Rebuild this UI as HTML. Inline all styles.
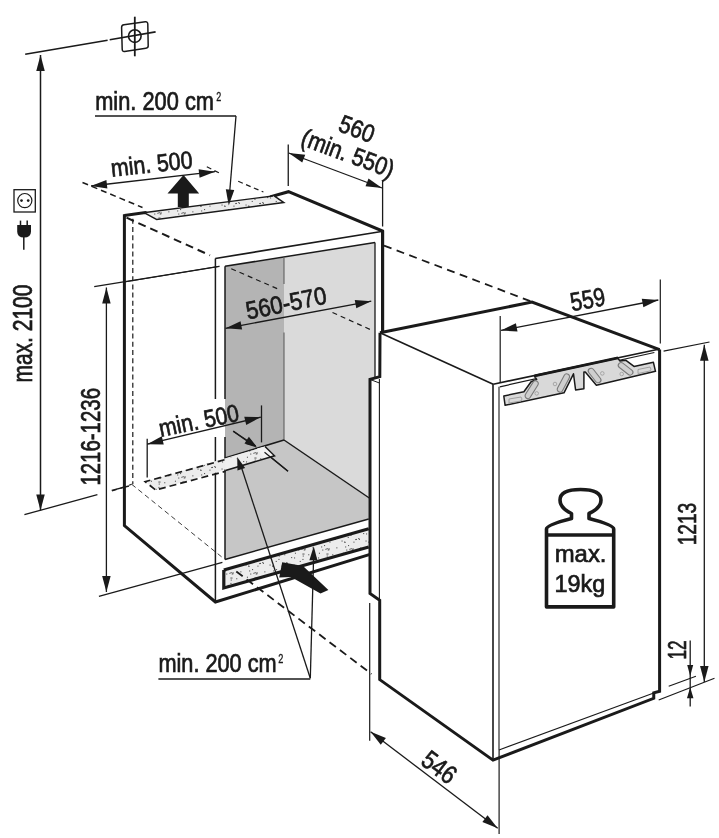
<!DOCTYPE html>
<html><head><meta charset="utf-8"><style>
html,body{margin:0;padding:0;background:#fff;}
svg{display:block;will-change:transform;}
text{font-family:"Liberation Sans",sans-serif;}
</style></head><body>
<svg width="719" height="838" viewBox="0 0 719 838">
<defs><pattern id="dots" width="24" height="24" patternUnits="userSpaceOnUse"><rect width="24" height="24" fill="#ececec"/><rect x="5.5" y="12.5" width="1.1" height="1.1" fill="#5a5a5a"/><rect x="8.5" y="13.9" width="1.1" height="1.1" fill="#5a5a5a"/><rect x="14.4" y="1.5" width="1.1" height="1.1" fill="#5a5a5a"/><rect x="0.3" y="19.3" width="1.1" height="1.1" fill="#5a5a5a"/><rect x="6.0" y="5.4" width="1.1" height="1.1" fill="#5a5a5a"/><rect x="22.9" y="10.8" width="1.1" height="1.1" fill="#5a5a5a"/><rect x="19.2" y="11.0" width="1.1" height="1.1" fill="#5a5a5a"/><rect x="14.7" y="3.5" width="1.1" height="1.1" fill="#5a5a5a"/><rect x="14.6" y="20.0" width="1.1" height="1.1" fill="#5a5a5a"/><rect x="12.0" y="17.0" width="1.1" height="1.1" fill="#5a5a5a"/><rect x="15.4" y="1.5" width="1.1" height="1.1" fill="#5a5a5a"/><rect x="17.4" y="13.6" width="1.1" height="1.1" fill="#5a5a5a"/><rect x="6.9" y="0.7" width="1.1" height="1.1" fill="#5a5a5a"/><rect x="19.9" y="10.9" width="1.1" height="1.1" fill="#5a5a5a"/><rect x="16.5" y="20.2" width="1.1" height="1.1" fill="#5a5a5a"/><rect x="16.4" y="21.2" width="1.1" height="1.1" fill="#5a5a5a"/><rect x="9.1" y="18.4" width="1.1" height="1.1" fill="#5a5a5a"/><rect x="10.2" y="21.5" width="1.1" height="1.1" fill="#5a5a5a"/><rect x="20.2" y="2.2" width="1.1" height="1.1" fill="#5a5a5a"/><rect x="3.1" y="5.0" width="1.1" height="1.1" fill="#5a5a5a"/><rect x="22.2" y="10.0" width="1.1" height="1.1" fill="#5a5a5a"/><rect x="14.4" y="6.9" width="1.1" height="1.1" fill="#5a5a5a"/><rect x="11.7" y="8.9" width="1.1" height="1.1" fill="#5a5a5a"/><rect x="8.1" y="13.5" width="1.1" height="1.1" fill="#5a5a5a"/><rect x="13.4" y="20.8" width="1.1" height="1.1" fill="#5a5a5a"/><rect x="15.7" y="21.4" width="1.1" height="1.1" fill="#5a5a5a"/></pattern></defs>
<rect width="719" height="838" fill="#fff"/>
<polygon points="225,266 284,257.6 284,440 225,458" fill="#b4b4b4"/>
<polygon points="284,257.6 375,242.5 375,502 368.75,497.7 284,440" fill="#dadada"/>
<polygon points="225,458 284,440 368.75,497.7 368.75,519 225,559.5" fill="#c6c6c6"/>
<polygon points="368.75,497.7 375,502 375,520 368.75,519" fill="#c6c6c6"/>
<line x1="25.2" y1="54.2" x2="107.6" y2="40.3" stroke="#1a1a1a" stroke-width="1.6" stroke-linecap="butt"/>
<line x1="109.7" y1="39.8" x2="155.6" y2="31.9" stroke="#1a1a1a" stroke-width="1.6" stroke-linecap="butt"/>
<path d="M124,24.7 L145.3,21.8 Q147.7,21.5 147.8,24 L148.2,45.6 Q148.3,48 145.9,48.3 L124.6,51.4 Q122.2,51.7 122.2,49.3 L121.6,27.4 Q121.6,25 124,24.7 Z" fill="none" stroke="#1a1a1a" stroke-width="1.5"/>
<circle cx="134.8" cy="36.1" r="6.3" fill="none" stroke="#1a1a1a" stroke-width="1.6"/>
<line x1="134.8" y1="16.7" x2="134.8" y2="56.3" stroke="#1a1a1a" stroke-width="1.8" stroke-linecap="butt"/>
<line x1="40.5" y1="55" x2="40.5" y2="510.4" stroke="#1a1a1a" stroke-width="1.5" stroke-linecap="butt"/>
<polygon points="40.50,55.00 44.75,71.00 36.25,71.00" fill="#1a1a1a"/>
<polygon points="40.50,510.40 36.25,494.40 44.75,494.40" fill="#1a1a1a"/>
<line x1="24.4" y1="514.7" x2="97.4" y2="494.6" stroke="#1a1a1a" stroke-width="1.3" stroke-linecap="butt"/>
<line x1="111.7" y1="490.3" x2="129" y2="486" stroke="#1a1a1a" stroke-width="1.3" stroke-linecap="butt"/>
<text transform="translate(32.4,382.6) rotate(-90)" font-size="27" fill="#1a1a1a" stroke="#1a1a1a" stroke-width="0.7" text-anchor="start" textLength="98" lengthAdjust="spacingAndGlyphs">max. 2100</text>
<rect x="14" y="189.7" width="21.3" height="22.3" fill="none" stroke="#1a1a1a" stroke-width="1.3"/>
<circle cx="24.8" cy="200.6" r="7.1" fill="none" stroke="#1a1a1a" stroke-width="1.2"/>
<circle cx="21.5" cy="200.6" r="1.35" fill="#1a1a1a"/><circle cx="28.2" cy="200.6" r="1.35" fill="#1a1a1a"/>
<path d="M17.2,224.9 H31 V231.5 Q31,237.5 24,237.5 Q17.2,237.5 17.2,231.5 Z" fill="#1a1a1a"/>
<line x1="20.5" y1="220.6" x2="20.5" y2="225" stroke="#1a1a1a" stroke-width="1.5" stroke-linecap="butt"/>
<line x1="27.2" y1="220.6" x2="27.2" y2="225" stroke="#1a1a1a" stroke-width="1.5" stroke-linecap="butt"/>
<line x1="23.8" y1="236" x2="23.8" y2="249.7" stroke="#1a1a1a" stroke-width="1.5" stroke-linecap="butt"/>
<line x1="106.4" y1="287.6" x2="106.4" y2="592" stroke="#1a1a1a" stroke-width="1.3" stroke-linecap="butt"/>
<polygon points="106.40,287.60 110.65,303.60 102.15,303.60" fill="#1a1a1a"/>
<polygon points="106.40,592.00 102.15,576.00 110.65,576.00" fill="#1a1a1a"/>
<line x1="94.2" y1="286.6" x2="219.4" y2="266.3" stroke="#1a1a1a" stroke-width="1.3" stroke-linecap="butt"/>
<line x1="98.9" y1="596.3" x2="222.4" y2="562.3" stroke="#1a1a1a" stroke-width="1.3" stroke-linecap="butt"/>
<text transform="translate(99.9,485.6) rotate(-90)" font-size="27" fill="#1a1a1a" stroke="#1a1a1a" stroke-width="0.7" text-anchor="start" textLength="97.6" lengthAdjust="spacingAndGlyphs">1216-1236</text>
<polyline points="124.4,215.6 145.3,212.5 156.8,218.8 281.7,202 273,196 288.5,191.7 382.6,231 382.6,332" fill="none" stroke="#1a1a1a" stroke-width="3" stroke-linejoin="miter"/>
<polyline points="124.4,214.2 124.4,525.6 215.4,602 370,554.4" fill="none" stroke="#1a1a1a" stroke-width="3" stroke-linejoin="miter"/>
<polygon points="145.3,212.5 273,196 281.7,202 156.8,218.8" fill="url(#dots)"/>
<line x1="145.3" y1="212.5" x2="273" y2="196" stroke="#1a1a1a" stroke-width="1.3" stroke-linecap="butt"/>
<line x1="215.3" y1="258.5" x2="381.5" y2="231.5" stroke="#1a1a1a" stroke-width="1.7" stroke-linecap="butt"/>
<line x1="215.4" y1="258.5" x2="215.4" y2="399" stroke="#1a1a1a" stroke-width="1.5" stroke-linecap="butt"/>
<line x1="215.4" y1="437" x2="215.4" y2="602" stroke="#1a1a1a" stroke-width="1.5" stroke-linecap="butt"/>
<line x1="225" y1="266.3" x2="375" y2="242.5" stroke="#1a1a1a" stroke-width="1.5" stroke-linecap="butt"/>
<line x1="375" y1="242.5" x2="375" y2="378" stroke="#1a1a1a" stroke-width="1.3" stroke-linecap="butt"/>
<line x1="225" y1="266.3" x2="225" y2="399" stroke="#1a1a1a" stroke-width="1.5" stroke-linecap="butt"/>
<line x1="225" y1="437" x2="225" y2="559.5" stroke="#1a1a1a" stroke-width="1.5" stroke-linecap="butt"/>
<line x1="225" y1="559.5" x2="368.75" y2="519" stroke="#1a1a1a" stroke-width="1.5" stroke-linecap="butt"/>
<line x1="284" y1="257.6" x2="284" y2="284" stroke="#606060" stroke-width="1.1" stroke-linecap="butt"/>
<line x1="284" y1="332.5" x2="284" y2="440" stroke="#606060" stroke-width="1.1" stroke-linecap="butt"/>
<line x1="284" y1="440" x2="370" y2="498.5" stroke="#1a1a1a" stroke-width="1.5" stroke-linecap="butt"/>
<line x1="225" y1="458" x2="284" y2="440" stroke="#1a1a1a" stroke-width="1.5" stroke-linecap="butt"/>
<line x1="124.4" y1="282" x2="219.4" y2="266.3" stroke="#1a1a1a" stroke-width="1.0" stroke-linecap="butt"/>
<line x1="82.5" y1="182.5" x2="142.5" y2="207.5" stroke="#1a1a1a" stroke-width="1.5" stroke-linecap="butt" stroke-dasharray="6,4"/>
<line x1="206.8" y1="166.8" x2="220.6" y2="173.7" stroke="#1a1a1a" stroke-width="1.2" stroke-linecap="butt" stroke-dasharray="5,3.5"/>
<line x1="238.2" y1="181.3" x2="263.4" y2="192" stroke="#1a1a1a" stroke-width="1.2" stroke-linecap="butt" stroke-dasharray="5,3.5"/>
<line x1="126.5" y1="217.7" x2="210" y2="255.3" stroke="#1a1a1a" stroke-width="2" stroke-linecap="butt" stroke-dasharray="8,5"/>
<line x1="231.25" y1="268.75" x2="277.5" y2="288.75" stroke="#1a1a1a" stroke-width="1.2" stroke-linecap="butt" stroke-dasharray="5,4"/>
<line x1="332.5" y1="312.5" x2="371.25" y2="330" stroke="#1a1a1a" stroke-width="1.2" stroke-linecap="butt" stroke-dasharray="5,4"/>
<line x1="384" y1="245.6" x2="531.3" y2="301.5" stroke="#1a1a1a" stroke-width="1.8" stroke-linecap="butt" stroke-dasharray="8,5.5"/>
<line x1="132.8" y1="218.8" x2="132.8" y2="484.3" stroke="#1a1a1a" stroke-width="1.2" stroke-linecap="butt" stroke-dasharray="5,3.2"/>
<line x1="112" y1="491" x2="131.7" y2="484.3" stroke="#1a1a1a" stroke-width="1.2" stroke-linecap="butt" stroke-dasharray="5,4"/>
<line x1="131.7" y1="484.3" x2="222.4" y2="557.5" stroke="#333" stroke-width="0.95" stroke-linecap="butt" stroke-dasharray="5,3.5"/>
<line x1="288.25" y1="144.5" x2="288.25" y2="186" stroke="#1a1a1a" stroke-width="1.3" stroke-linecap="butt"/>
<line x1="382.6" y1="180.5" x2="382.6" y2="226.5" stroke="#1a1a1a" stroke-width="1.3" stroke-linecap="butt"/>
<line x1="288.75" y1="153" x2="382" y2="188" stroke="#1a1a1a" stroke-width="1.3" stroke-linecap="butt"/>
<polygon points="288.75,153.00 305.22,154.64 302.24,162.60" fill="#1a1a1a"/>
<polygon points="382.00,188.00 365.53,186.36 368.51,178.40" fill="#1a1a1a"/>
<text transform="translate(337,130.5) rotate(20.8)" font-size="25" fill="#1a1a1a" stroke="#1a1a1a" stroke-width="0.7" text-anchor="start" textLength="36" lengthAdjust="spacingAndGlyphs">560</text>
<text transform="translate(299.5,144.5) rotate(20.3)" font-size="25" fill="#1a1a1a" stroke="#1a1a1a" stroke-width="0.7" text-anchor="start" textLength="97" lengthAdjust="spacingAndGlyphs">(min. 550)</text>
<line x1="91" y1="186" x2="215" y2="171.7" stroke="#1a1a1a" stroke-width="1.3" stroke-linecap="butt"/>
<polygon points="91.00,186.00 106.41,179.94 107.38,188.39" fill="#1a1a1a"/>
<polygon points="215.00,171.70 199.59,177.76 198.62,169.31" fill="#1a1a1a"/>
<text transform="translate(111.7,176.7) rotate(-6.2)" font-size="24.6" fill="#1a1a1a" stroke="#1a1a1a" stroke-width="0.7" text-anchor="start" textLength="82" lengthAdjust="spacingAndGlyphs">min. 500</text>
<polygon points="183.5,175 199.2,193.5 188.8,193.5 188.8,207 177.8,207 177.8,193.5 167.5,193.5" fill="#1a1a1a"/>
<text transform="translate(95.2,109.6) rotate(0)" font-size="25" fill="#1a1a1a" stroke="#1a1a1a" stroke-width="0.7" text-anchor="start" textLength="118.8" lengthAdjust="spacingAndGlyphs">min. 200 cm</text>
<text transform="translate(216.2,100.6) rotate(0)" font-size="12.3" fill="#1a1a1a" stroke="#1a1a1a" stroke-width="0.35" text-anchor="start" textLength="5" lengthAdjust="spacingAndGlyphs">2</text>
<line x1="95" y1="115.9" x2="236" y2="115.9" stroke="#1a1a1a" stroke-width="1.5" stroke-linecap="butt"/>
<line x1="236" y1="115.9" x2="229" y2="200" stroke="#1a1a1a" stroke-width="1.3" stroke-linecap="butt"/>
<polygon points="228.75,205.50 225.80,189.21 234.28,189.89" fill="#1a1a1a"/>
<line x1="225.6" y1="328.3" x2="371.25" y2="301.2" stroke="#1a1a1a" stroke-width="1.3" stroke-linecap="butt"/>
<polygon points="225.60,328.30 240.55,321.19 242.11,329.55" fill="#1a1a1a"/>
<polygon points="371.25,301.20 356.30,308.31 354.74,299.95" fill="#1a1a1a"/>
<text transform="translate(247.8,319.6) rotate(-11.5)" font-size="25" fill="#1a1a1a" stroke="#1a1a1a" stroke-width="0.7" text-anchor="start" textLength="81.7" lengthAdjust="spacingAndGlyphs">560-570</text>
<line x1="147.2" y1="438.8" x2="147.2" y2="477.6" stroke="#1a1a1a" stroke-width="1.3" stroke-linecap="butt"/>
<line x1="261.5" y1="405.4" x2="261.5" y2="442.4" stroke="#1a1a1a" stroke-width="1.3" stroke-linecap="butt"/>
<line x1="147.2" y1="444.2" x2="260.8" y2="417.1" stroke="#1a1a1a" stroke-width="1.3" stroke-linecap="butt"/>
<polygon points="147.20,444.20 161.78,436.35 163.75,444.62" fill="#1a1a1a"/>
<polygon points="260.80,417.10 246.22,424.95 244.25,416.68" fill="#1a1a1a"/>
<text transform="translate(160.8,437) rotate(-11.6)" font-size="24.6" fill="#1a1a1a" stroke="#1a1a1a" stroke-width="0.7" text-anchor="start" textLength="81.2" lengthAdjust="spacingAndGlyphs">min. 500</text>
<line x1="233.1" y1="431.2" x2="255.7" y2="446" stroke="#1a1a1a" stroke-width="1.3" stroke-linecap="butt"/>
<polygon points="256.70,446.70 244.47,443.46 248.87,436.77" fill="#1a1a1a"/>
<line x1="265.2" y1="452.5" x2="288.1" y2="471.3" stroke="#1a1a1a" stroke-width="1.3" stroke-linecap="butt"/>
<polygon points="145.2,481.7 265,446.5 274.5,455.8 155.6,490" fill="url(#dots)"/>
<polygon points="225.5,459 236.7,455.9 236.7,467 225.5,470.3" fill="#efefef"/>
<polygon points="257,448.6 265,446.5 274.5,455.8 264.5,458.5" fill="#f2f2f2"/>
<polyline points="224.5,459.8 145.2,481.7 155.6,490 225.5,471.3" fill="none" stroke="#1a1a1a" stroke-width="1.7" stroke-linejoin="miter" stroke-dasharray="7,4"/>
<polyline points="265,446.5 274.5,455.8 225.5,470.5" fill="none" stroke="#1a1a1a" stroke-width="1.5" stroke-linejoin="miter"/>
<line x1="233.3" y1="431.1" x2="252" y2="444.5" stroke="#1a1a1a" stroke-width="1.3" stroke-linecap="butt"/>
<polygon points="256.50,447.50 245.50,444.01 249.54,438.29" fill="#1a1a1a"/>
<line x1="264.5" y1="452.3" x2="287.9" y2="471.2" stroke="#1a1a1a" stroke-width="1.2" stroke-linecap="butt"/>
<polygon points="223.8,570 368.75,528.75 368.75,547 223.8,588" fill="url(#dots)"/>
<polyline points="223.8,570 368.75,528.75" fill="none" stroke="#1a1a1a" stroke-width="3.2" stroke-linejoin="miter"/>
<polyline points="368.75,547 223.8,588 223.8,570" fill="none" stroke="#1a1a1a" stroke-width="3.2" stroke-linejoin="miter"/>
<line x1="236.3" y1="571.5" x2="371.5" y2="674" stroke="#1a1a1a" stroke-width="1.8" stroke-linecap="butt" stroke-dasharray="8,5"/>
<polygon points="282.2,562.2 303,566 328.4,589.9 320.5,593.5 291,577 279.2,577.5" fill="#1a1a1a"/>
<line x1="240" y1="463" x2="310.3" y2="678.2" stroke="#1a1a1a" stroke-width="1.3" stroke-linecap="butt"/>
<line x1="313.75" y1="552" x2="310.3" y2="678.2" stroke="#1a1a1a" stroke-width="1.3" stroke-linecap="butt"/>
<polygon points="313.75,546.25 317.38,560.35 309.39,560.14" fill="#1a1a1a"/>
<polygon points="237.20,457.00 245.08,468.09 237.48,470.60" fill="#1a1a1a"/>
<text transform="translate(158.4,672.1) rotate(0)" font-size="25" fill="#1a1a1a" stroke="#1a1a1a" stroke-width="0.7" text-anchor="start" textLength="118.3" lengthAdjust="spacingAndGlyphs">min. 200 cm</text>
<text transform="translate(278.3,663) rotate(0)" font-size="12.3" fill="#1a1a1a" stroke="#1a1a1a" stroke-width="0.35" text-anchor="start" textLength="5.1" lengthAdjust="spacingAndGlyphs">2</text>
<line x1="158.4" y1="679.1" x2="310.3" y2="679.1" stroke="#1a1a1a" stroke-width="1.5" stroke-linecap="butt"/>
<polygon points="380,332.8 532,302 659.6,349.6 659.6,691.3 653.75,698.3 493,760.1 379.7,679.6 379.7,600.3 370,593.4 370,379.4 379.8,376.7" fill="#fff"/>
<polyline points="380,332.8 532,302 659.6,349.6" fill="none" stroke="#1a1a1a" stroke-width="3" stroke-linejoin="miter"/>
<line x1="380" y1="332.8" x2="493.2" y2="384.2" stroke="#1a1a1a" stroke-width="1.6" stroke-linecap="butt"/>
<line x1="493.2" y1="384.2" x2="659.7" y2="349" stroke="#1a1a1a" stroke-width="1.6" stroke-linecap="butt"/>
<line x1="499.8" y1="386.8" x2="654.4" y2="352.5" stroke="#1a1a1a" stroke-width="1.2" stroke-linecap="butt"/>
<polyline points="382.6,231 382.6,332.5" fill="none" stroke="#1a1a1a" stroke-width="3" stroke-linejoin="miter"/>
<polyline points="380,332.8 379.8,376.7 370,379.4 370,593.4 379.7,600.3 379.7,679.6 493,760.1 653.75,698.3 653.75,692.9 659.6,691.3 659.6,349.6" fill="none" stroke="#1a1a1a" stroke-width="3" stroke-linejoin="miter"/>
<line x1="379.4" y1="379" x2="379.4" y2="600" stroke="#1a1a1a" stroke-width="1.1" stroke-linecap="butt"/>
<line x1="370" y1="379.4" x2="379.4" y2="383" stroke="#1a1a1a" stroke-width="1.0" stroke-linecap="butt"/>
<line x1="493" y1="384.2" x2="493" y2="760.1" stroke="#1a1a1a" stroke-width="1.6" stroke-linecap="butt"/>
<line x1="499" y1="386.8" x2="499" y2="750" stroke="#1a1a1a" stroke-width="1.1" stroke-linecap="butt"/>
<line x1="499" y1="750" x2="653.75" y2="692.9" stroke="#1a1a1a" stroke-width="1.1" stroke-linecap="butt"/>
<line x1="369.7" y1="603" x2="369.7" y2="740.7" stroke="#1a1a1a" stroke-width="1.2" stroke-linecap="butt"/>
<line x1="499.1" y1="750" x2="499.1" y2="834" stroke="#1a1a1a" stroke-width="1.2" stroke-linecap="butt"/>
<line x1="370.6" y1="731.8" x2="497.7" y2="828.3" stroke="#1a1a1a" stroke-width="1.3" stroke-linecap="butt"/>
<polygon points="370.60,731.80 385.91,738.09 380.77,744.86" fill="#1a1a1a"/>
<polygon points="497.70,828.30 482.39,822.01 487.53,815.24" fill="#1a1a1a"/>
<text transform="translate(419.5,763.5) rotate(37)" font-size="26" fill="#1a1a1a" stroke="#1a1a1a" stroke-width="0.7" text-anchor="start" textLength="36" lengthAdjust="spacingAndGlyphs">546</text>
<line x1="500.2" y1="316" x2="500.2" y2="383" stroke="#1a1a1a" stroke-width="1.2" stroke-linecap="butt"/>
<line x1="660.3" y1="279.5" x2="660.3" y2="343.5" stroke="#1a1a1a" stroke-width="1.2" stroke-linecap="butt"/>
<line x1="501" y1="330.4" x2="658.3" y2="300" stroke="#1a1a1a" stroke-width="1.3" stroke-linecap="butt"/>
<polygon points="501.00,330.40 515.90,323.19 517.52,331.54" fill="#1a1a1a"/>
<polygon points="658.30,300.00 643.40,307.21 641.78,298.86" fill="#1a1a1a"/>
<text transform="translate(572,311.2) rotate(-10.1)" font-size="26" fill="#1a1a1a" stroke="#1a1a1a" stroke-width="0.7" text-anchor="start" textLength="35" lengthAdjust="spacingAndGlyphs">559</text>
<line x1="663.6" y1="351.2" x2="709.5" y2="342" stroke="#1a1a1a" stroke-width="1.2" stroke-linecap="butt"/>
<line x1="704.3" y1="344.8" x2="704.3" y2="682" stroke="#1a1a1a" stroke-width="1.3" stroke-linecap="butt"/>
<polygon points="704.30,344.80 708.55,360.80 700.05,360.80" fill="#1a1a1a"/>
<polygon points="704.30,682.00 700.05,666.00 708.55,666.00" fill="#1a1a1a"/>
<line x1="658.7" y1="700" x2="714.5" y2="678.3" stroke="#1a1a1a" stroke-width="1.2" stroke-linecap="butt"/>
<text transform="translate(696.2,545.3) rotate(-90)" font-size="26" fill="#1a1a1a" stroke="#1a1a1a" stroke-width="0.7" text-anchor="start" textLength="42.5" lengthAdjust="spacingAndGlyphs">1213</text>
<line x1="668.7" y1="686.3" x2="695.9" y2="676.3" stroke="#1a1a1a" stroke-width="1.2" stroke-linecap="butt"/>
<line x1="690.2" y1="640.5" x2="690.2" y2="706.4" stroke="#1a1a1a" stroke-width="1.3" stroke-linecap="butt"/>
<polygon points="690.20,676.00 687.20,665.00 693.20,665.00" fill="#1a1a1a"/>
<polygon points="690.20,687.30 693.45,698.30 686.95,698.30" fill="#1a1a1a"/>
<text transform="translate(685.6,659.6) rotate(-90)" font-size="26" fill="#1a1a1a" stroke="#1a1a1a" stroke-width="0.7" text-anchor="start" textLength="19" lengthAdjust="spacingAndGlyphs">12</text>
<polygon points="503.8,396 523.9,391.7 531.1,381.7 536.7,379.4 534.6,376.5 618,358.6 620,360.9 625.6,360.2 634,366.4 653.4,362.3 655.5,371.3 596.4,385.2 585.3,372 583.9,372 583.9,388.7 575.6,390 573.5,373.8 564,392.8 505.1,405.3" fill="#d9d9d9" stroke="#1a1a1a" stroke-width="1.5" stroke-linejoin="round"/>
<line x1="534.6" y1="375.6" x2="618" y2="357.6" stroke="#1a1a1a" stroke-width="2.2" stroke-linecap="butt"/>
<rect x="-10.0" y="-2.8" width="20" height="5.6" rx="2.8" fill="#cfcfcf" stroke="#7a7a7a" stroke-width="1.1" transform="translate(531.7,389.7) rotate(-58)"/>
<rect x="-10.0" y="-2.8" width="20" height="5.6" rx="2.8" fill="#cfcfcf" stroke="#7a7a7a" stroke-width="1.1" transform="translate(563.4,383) rotate(-62)"/>
<rect x="-8.5" y="-2.8" width="17" height="5.6" rx="2.8" fill="#cfcfcf" stroke="#7a7a7a" stroke-width="1.1" transform="translate(594.6,375.5) rotate(52)"/>
<rect x="-8.5" y="-2.8" width="17" height="5.6" rx="2.8" fill="#cfcfcf" stroke="#7a7a7a" stroke-width="1.1" transform="translate(625.6,368.8) rotate(38)"/>
<path d="M638,369.5 L650,367 Q652,369.5 650,371 L638,373.5 Z" fill="none" stroke="#9a9a9a" stroke-width="0.9"/>
<path d="M509,399 L521,397 Q523,399 521,401 L509,403 Z" fill="none" stroke="#9a9a9a" stroke-width="0.9"/>
<circle cx="602.3" cy="373.4" r="1.8" fill="none" stroke="#9a9a9a" stroke-width="0.8"/>
<circle cx="621.7" cy="374" r="1.8" fill="none" stroke="#9a9a9a" stroke-width="0.8"/>
<circle cx="555" cy="384" r="1.8" fill="none" stroke="#9a9a9a" stroke-width="0.8"/>
<circle cx="536.7" cy="393.4" r="1.8" fill="none" stroke="#9a9a9a" stroke-width="0.8"/>
<path d="M546.5,606.9 V529 Q546.5,525 571.5,518.5 V513.5 Q560,508 560,500 Q560,489.5 580.5,489.5 Q601,489.5 601,500 Q601,508 589,513.5 V518.5 Q613.7,525 613.7,529 V606.9 Z" fill="none" stroke="#1a1a1a" stroke-width="3.6" stroke-linejoin="round"/>
<line x1="546.5" y1="535" x2="613.7" y2="535" stroke="#1a1a1a" stroke-width="3.4" stroke-linecap="butt"/>
<text transform="translate(554.7,561.9) rotate(0)" font-size="24.6" fill="#1a1a1a" stroke="#1a1a1a" stroke-width="0.7" text-anchor="start" textLength="51.8" lengthAdjust="spacingAndGlyphs">max.</text>
<text transform="translate(554.5,592) rotate(0)" font-size="24.6" fill="#1a1a1a" stroke="#1a1a1a" stroke-width="0.7" text-anchor="start" textLength="50.8" lengthAdjust="spacingAndGlyphs">19kg</text>
</svg></body></html>
